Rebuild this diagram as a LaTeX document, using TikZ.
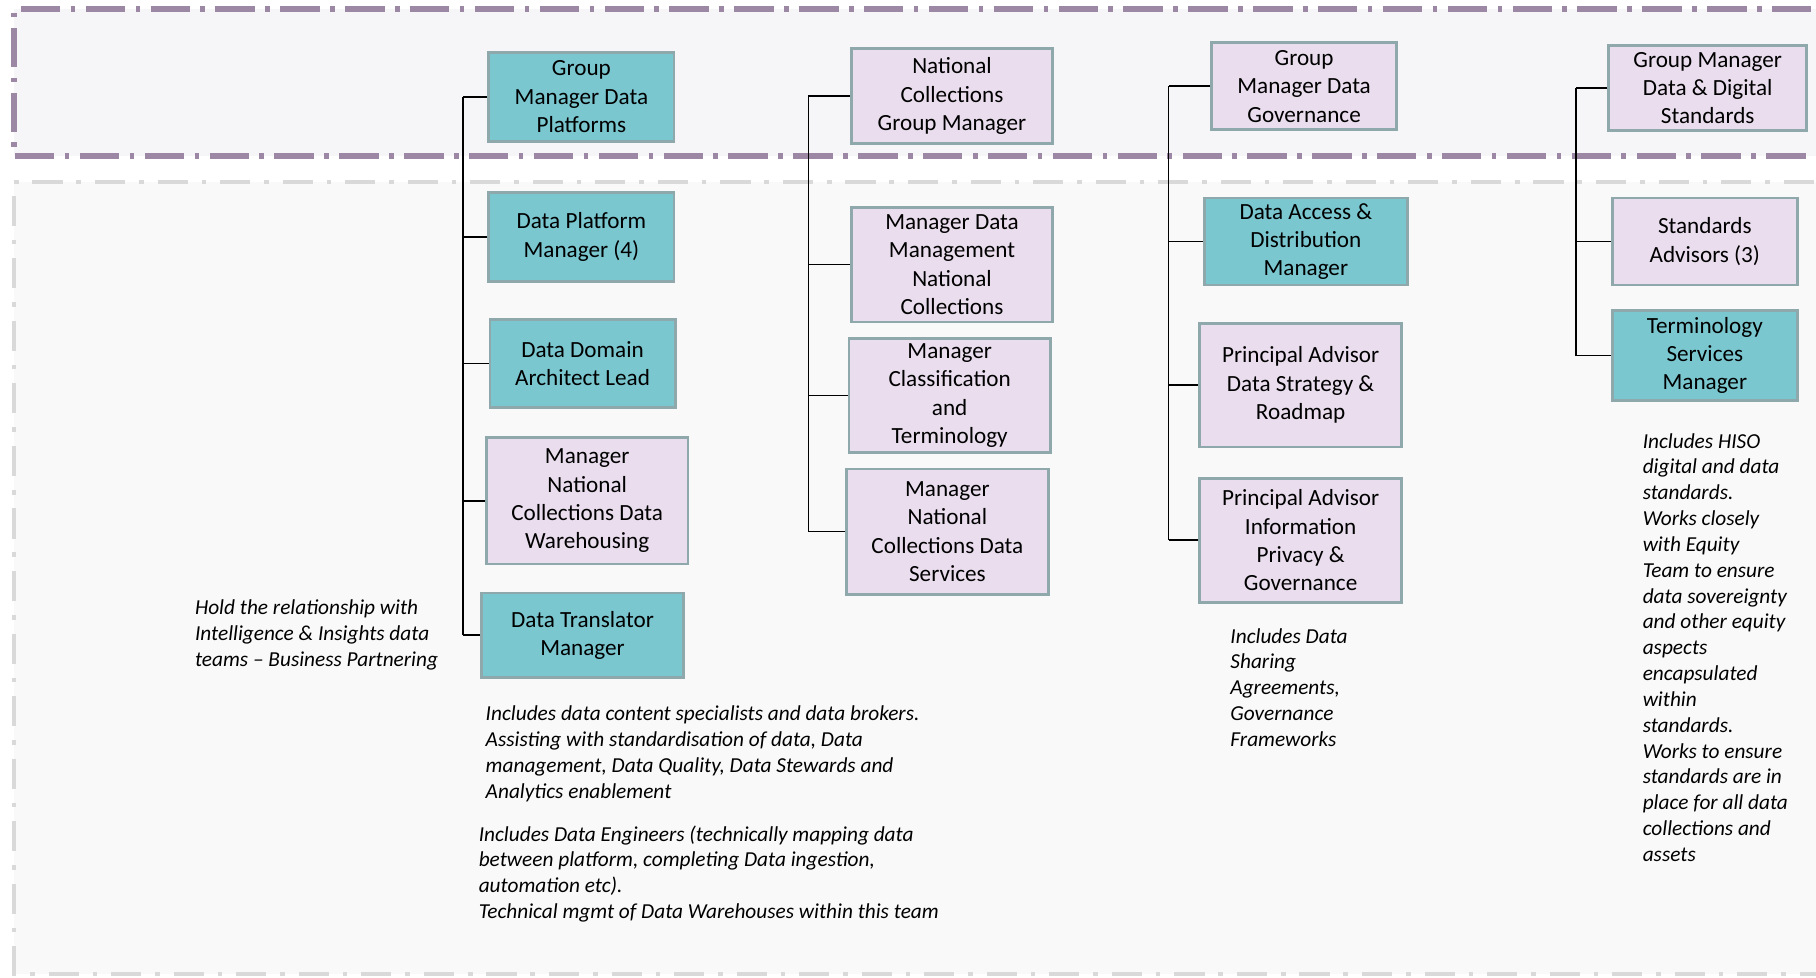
\documentclass[tikz,border=0pt]{standalone}
\usepackage{fontspec}
\setmainfont{Carlito}
\definecolor{teal1}{HTML}{7AC7D0}
\definecolor{pink1}{HTML}{EADDEE}
\definecolor{bord}{HTML}{8EA8AC}
\definecolor{purp}{HTML}{9C88A5}
\definecolor{grayd}{HTML}{D9D9D9}
\definecolor{topbg}{HTML}{F6F6F8}
\definecolor{lowbg}{HTML}{F9F9F9}
\tikzset{
  box/.style={draw=bord, line width=1.2pt, inner sep=0pt, align=center,
    font=\fontsize{10}{12.25}\selectfont},
  tealbox/.style={box, fill=teal1},
  pinkbox/.style={box, fill=pink1},
  note/.style={inner sep=0pt, anchor=west, align=left,
    font=\fontsize{9.2}{11.15}\selectfont\itshape},
  conn/.style={draw=black, line width=0.7pt},
}
\begin{document}
\begin{tikzpicture}[x=0.5pt, y=-0.5pt]
\useasboundingbox (0,0) rectangle (1568,844);
\fill[white] (0,0) rectangle (1568,844);
\begin{scope}
\clip (0,0) rectangle (1568,844);
\fill[topbg] (12,8) rectangle (1620,135);
\fill[lowbg] (12,157) rectangle (1620,841);
\draw[purp, line width=2.6pt, dash pattern=on 17pt off 4.5pt on 2pt off 4.5pt] (1620,8) -- (12,8) -- (12,135) -- (1620,135);
\draw[grayd, line width=1.8pt, dash pattern=on 13pt off 6pt on 2pt off 6pt] (1620,157) -- (12,157) -- (12,841) -- (1620,841);
\end{scope}

% column 1
\node[tealbox, minimum width=80pt, minimum height=38.5pt] (b1) at (502,83.5) {Group\\Manager Data\\Platforms};
\node[tealbox, minimum width=80pt, minimum height=38.5pt] (b2) at (502,204.5) {Data Platform\\Manager (4)};
\node[tealbox, minimum width=80pt, minimum height=38pt] (b3) at (503,314) {Data Domain\\Architect Lead};
\node[pinkbox, minimum width=87pt, minimum height=54.5pt] (b4) at (507,432.5) {Manager\\National\\Collections Data\\Warehousing};
\node[tealbox, minimum width=87pt, minimum height=36.5pt] (b5) at (503,548.5) {Data Translator\\Manager};

% column 2
\node[pinkbox, minimum width=87pt, minimum height=41pt] (b6) at (822,83) {National\\Collections\\Group Manager};
\node[pinkbox, minimum width=87pt, minimum height=49.5pt] (b7) at (822,228.5) {Manager Data\\Management\\National\\Collections};
\node[pinkbox, minimum width=87pt, minimum height=49.5pt] (b8) at (820,341.5) {Manager\\Classification\\and\\Terminology};
\node[pinkbox, minimum width=87pt, minimum height=54pt] (b9) at (818,459) {Manager\\National\\Collections Data\\Services};

% column 3
\node[pinkbox, minimum width=80pt, minimum height=37.5pt] (b10) at (1126,74.5) {Group\\Manager Data\\Governance};
\node[tealbox, minimum width=87.5pt, minimum height=37.5pt] (b11) at (1127.5,208.5) {Data Access \&\\Distribution\\Manager};
\node[pinkbox, minimum width=87pt, minimum height=53.5pt] (b12) at (1123,332.5) {Principal Advisor\\Data Strategy \&\\Roadmap};
\node[pinkbox, minimum width=87pt, minimum height=53.5pt] (b13) at (1123,466.5) {Principal Advisor\\Information\\Privacy \&\\Governance};

% column 4
\node[pinkbox, minimum width=85.5pt, minimum height=37pt] (b14) at (1474.5,76) {Group Manager\\Data \& Digital\\Standards};
\node[pinkbox, minimum width=80pt, minimum height=37.5pt] (b15) at (1472,208.5) {Standards\\Advisors (3)};
\node[tealbox, minimum width=80pt, minimum height=39pt] (b16) at (1472,307) {Terminology\\Services\\Manager};

% spines
\coordinate (s1) at (400,0);
\coordinate (s2) at (698,0);
\coordinate (s3) at (1009,0);
\coordinate (s4) at (1361,0);

\draw[conn] (b1.west -| s1) -- (b5.west -| s1);
\foreach \b in {b1,b2,b3,b4,b5} \draw[conn] (\b.west) -- (\b.west -| s1);
\draw[conn] (b6.west -| s2) -- (b9.west -| s2);
\foreach \b in {b6,b7,b8,b9} \draw[conn] (\b.west) -- (\b.west -| s2);
\draw[conn] (b10.west -| s3) -- (b13.west -| s3);
\foreach \b in {b10,b11,b12,b13} \draw[conn] (\b.west) -- (\b.west -| s3);
\draw[conn] (b14.west -| s4) -- (b16.west -| s4);
\foreach \b in {b14,b15,b16} \draw[conn] (\b.west) -- (\b.west -| s4);

% notes
\node[note] (n1) at (168,548.5) {Hold the relationship with\\Intelligence \& Insights data\\teams -- Business Partnering};
\node[note] (n2) at (419,651) {Includes data content specialists and data brokers.\\Assisting with standardisation of data, Data\\management, Data Quality, Data Stewards and\\Analytics enablement};
\node[note] (n3) at (413,754.5) {Includes Data Engineers (technically mapping data\\between platform, completing Data ingestion,\\automation etc).\\Technical mgmt of Data Warehouses within this team};
\node[note] (n4) at (1062,593.5) {Includes Data\\Sharing\\Agreements,\\Governance\\Frameworks};
\node[note] (n5) at (1418,559) {Includes HISO\\digital and data\\standards.\\Works closely\\with Equity\\Team to ensure\\data sovereignty\\and other equity\\aspects\\encapsulated\\within\\standards.\\Works to ensure\\standards are in\\place for all data\\collections and\\assets};
\end{tikzpicture}
\end{document}
